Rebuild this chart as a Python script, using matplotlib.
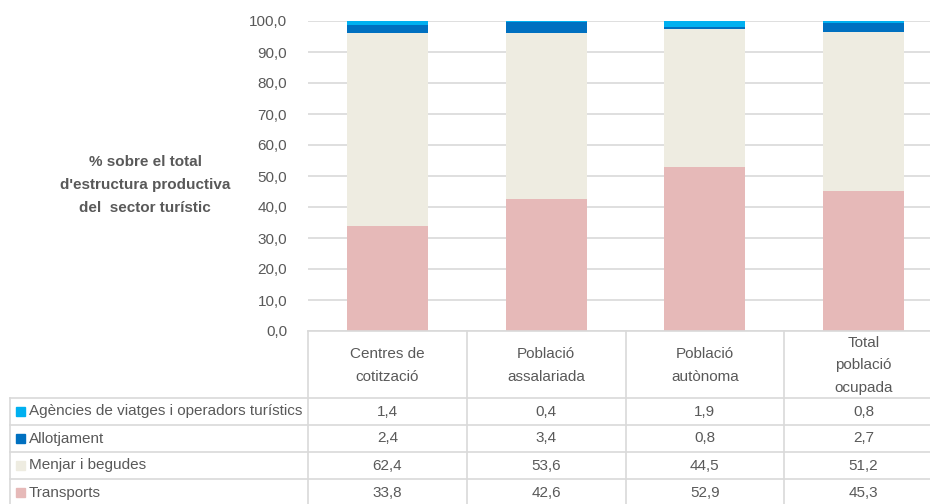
import matplotlib.pyplot as plt
from matplotlib.lines import Line2D
from matplotlib.patches import Rectangle

categories = ["Centres de\ncotització", "Població\nassalariada", "Població\nautònoma", "Total\npoblació\nocupada"]
series = ["Agències de viatges i operadors turístics", "Allotjament", "Menjar i begudes", "Transports"]
agencies = [1.4, 0.4, 1.9, 0.8]
allotjament = [2.4, 3.4, 0.8, 2.7]
menjar = [62.4, 53.6, 44.5, 51.2]
transports = [33.8, 42.6, 52.9, 45.3]
colors = ["#00B0F0", "#0070C0", "#EEECE1", "#E6B9B8"]
yticks = [0, 10, 20, 30, 40, 50, 60, 70, 80, 90, 100]

plt.rcParams['font.family'] = ['Liberation Sans', 'DejaVu Sans']
txt = "#595959"
grid = "#D9D9D9"
fs = 11

W, H = 930, 504
fig = plt.figure(figsize=(W / 100, H / 100), dpi=100)

def fx(x):
    return x / W

def fy(y):
    return 1 - y / H

# plot area in pixels (right side runs past the picture edge, as in the source)
left, right, top, bottom = 308, 943, 21, 331
ax = fig.add_axes([fx(left), fy(bottom), fx(right - left), fy(top) - fy(bottom)])

values = [agencies, allotjament, menjar, transports]
x = range(len(categories))
base = [0] * len(categories)
for vals, col in zip(values[::-1], colors[::-1]):
    ax.bar(x, vals, bottom=base, width=0.51, color=col, zorder=3)
    base = [b + v for b, v in zip(base, vals)]

ax.set_xlim(-0.5, len(categories) - 0.5)
ax.set_ylim(0, 100)
ax.set_yticks(yticks)
ax.set_yticklabels([f"{t:.1f}".replace(".", ",") for t in yticks], color=txt, fontsize=fs)
ax.tick_params(axis='y', length=0, pad=15)
ax.set_xticks([])
ax.grid(axis='y', color=grid, linewidth=1.2, zorder=0)
for s in ax.spines.values():
    s.set_visible(False)

fig.text(fx(145), fy(185), "% sobre el total\nd'estructura productiva\ndel  sector turístic",
         ha='center', va='center', fontsize=fs, fontweight='bold', color=txt, linespacing=1.8)

# data table
col_edges = [left + i * (right - left) / len(categories) for i in range(len(categories) + 1)]
row_edges = [331, 398, 425, 452, 479, 506]
tab_left = 10

def hline(y, x0, x1):
    fig.add_artist(Line2D([fx(x0), fx(x1)], [fy(y), fy(y)], color=grid, lw=1.2))

def vline(x, y0, y1):
    fig.add_artist(Line2D([fx(x), fx(x)], [fy(y0), fy(y1)], color=grid, lw=1.2))

hline(row_edges[0], col_edges[0], col_edges[-1])
for y in row_edges[1:5]:
    hline(y, tab_left, col_edges[-1])
for xe in col_edges:
    vline(xe, row_edges[0], H)
vline(tab_left, row_edges[1], H)

for i, cat in enumerate(categories):
    cx = (col_edges[i] + col_edges[i + 1]) / 2
    fig.text(fx(cx), fy((row_edges[0] + row_edges[1]) / 2 + 1), cat, ha='center', va='center',
             fontsize=fs, color=txt, linespacing=1.8)

for r, (name, vals, col) in enumerate(zip(series, values, colors)):
    cy = (row_edges[r + 1] + row_edges[r + 2]) / 2
    if r == 3:
        cy = row_edges[r + 1] + 14
    fig.add_artist(Rectangle((fx(16), fy(cy + 4)), fx(9), fy(cy - 5) - fy(cy + 4), color=col))
    fig.text(fx(29), fy(cy), name, ha='left', va='center', fontsize=fs, color=txt)
    for i, v in enumerate(vals):
        cx = (col_edges[i] + col_edges[i + 1]) / 2
        fig.text(fx(cx), fy(cy), f"{v:.1f}".replace(".", ","), ha='center', va='center',
                 fontsize=fs, color=txt)

fig.savefig("out.png", dpi=100)
